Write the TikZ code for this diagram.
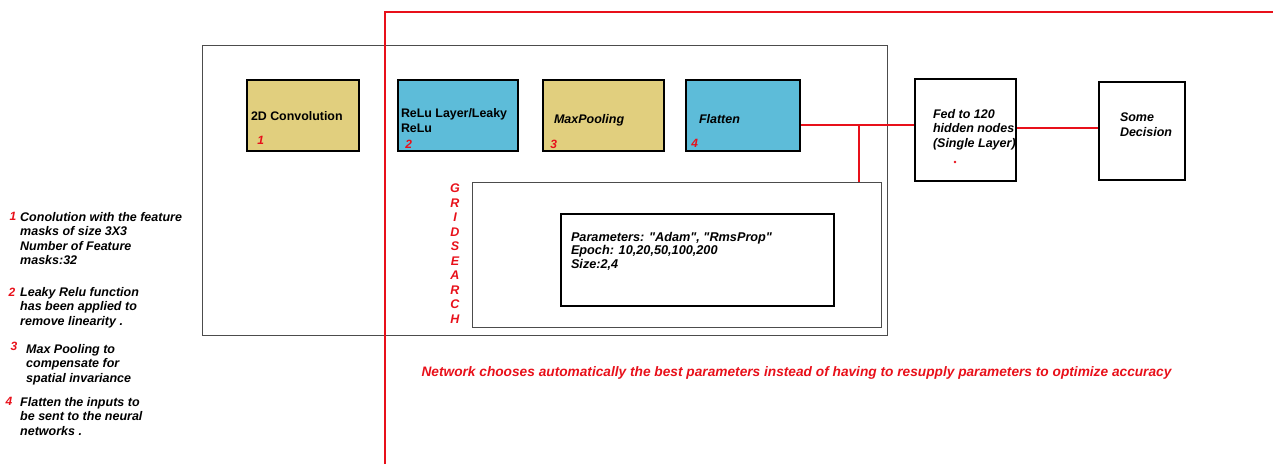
\documentclass[tikz,border=0pt]{standalone}
\usepackage{fontspec}
\setmainfont{Liberation Sans}
\usetikzlibrary{positioning,calc}
\definecolor{layertan}{HTML}{E1CF7E}
\definecolor{layerblue}{HTML}{5DBCD9}
\definecolor{markred}{HTML}{E8101A}

\tikzset{
	layerbox/.style={draw=black,line width=2.4pt,minimum width=112pt,minimum height=71pt,inner sep=0pt},
	plainbox/.style={draw=black,line width=2.4pt,inner sep=0pt},
	framebox/.style={draw=black!70,line width=0.9pt,inner sep=0pt},
	boxtext/.style={font=\fontsize{12.4}{15}\selectfont\bfseries,align=left,inner sep=0pt},
	itext/.style={font=\fontsize{12.5}{14.5}\selectfont\bfseries\itshape,align=left,inner sep=0pt},
	numtext/.style={font=\fontsize{12}{13}\selectfont\bfseries\itshape,text=markred,inner sep=0pt},
	redline/.style={draw=markred,line width=1.8pt}
}

\begin{document}
\begin{tikzpicture}[x=1pt,y=-1pt]
	\useasboundingbox (0,0) rectangle (1273,464);
	
	% outer frame and grid search frame
	\node[framebox,minimum width=685pt,minimum height=290pt] (outer) at (544.5,190) {};
	\node[framebox,minimum width=409pt,minimum height=145pt] (grid) at (676.5,254.5) {};
	
	% layers
	\node[layerbox,fill=layertan] (conv) at (303,115.5) {};
	\node[layerbox,fill=layerblue,minimum width=120pt] (relu) at (458,115.5) {};
	\node[layerbox,fill=layertan,minimum width=121pt] (pool) at (603.5,115.5) {};
	\node[layerbox,fill=layerblue,minimum width=114pt] (flat) at (743,115.5) {};
	
	\node[boxtext,anchor=west] (convtxt) at ([xshift=5pt,yshift=-1pt]conv.west) {2D Convolution};
	\node[boxtext,anchor=west] (relutxt) at ([xshift=4pt,yshift=-5pt]relu.west) {ReLu Layer/Leaky\\ReLu};
	\node[itext,anchor=west] (pooltxt) at ([xshift=12pt,yshift=-5pt]pool.west) {MaxPooling};
	\node[itext,anchor=west] (flattxt) at ([xshift=14pt,yshift=-4pt]flat.west) {Flatten};
	
	\node[numtext] (n1) at ([xshift=15pt,yshift=12pt]conv.south west) {1};
	\node[numtext] (n2) at ([xshift=12pt,yshift=8pt]relu.south west) {2};
	\node[numtext] (n3) at ([xshift=12pt,yshift=8pt]pool.south west) {3};
	\node[numtext] (n4) at ([xshift=10pt,yshift=9pt]flat.south west) {4};
	
	% dense part
	\node[plainbox,minimum width=101pt,minimum height=102pt] (fed) at (965.5,130) {};
	\node[plainbox,minimum width=86pt,minimum height=98pt] (decide) at (1142,131) {};
	\node[itext,anchor=north west] (fedtxt) at ([xshift=19pt,yshift=-31pt]fed.north west) {Fed to 120\\hidden nodes\\(Single Layer)};
	\node[itext,anchor=north west] (decidetxt) at ([xshift=22pt,yshift=-32pt]decide.north west) {Some\\Decision};
	\fill[markred] (955,162) circle (1.4pt);
	
	% grid search
	\node[plainbox,minimum width=273pt,minimum height=92pt] (params) at (697.5,260) {};
	\node[itext,anchor=north west,font=\fontsize{12.7}{13.5}\selectfont\bfseries\itshape] (paramtxt) at ([xshift=11pt,yshift=-19pt]params.north west)
		{Parameters: \textquotedbl Adam\textquotedbl, \textquotedbl RmsProp\textquotedbl\\Epoch: 10,20,50,100,200\\Size:2,4};
	\node[itext,align=center,text=markred] (gridtxt) at (455,253.5) {G\\R\\I\\D\\S\\E\\A\\R\\C\\H};
	
	% connectors
	\coordinate (tap) at (859,125);
	\coordinate (link) at (1050,128);
	\draw[redline] (flat.east |- tap) -- (fed.west |- tap);
	\draw[redline] (tap) -- (tap |- grid.north);
	\draw[redline] (fed.east |- link) -- (decide.west |- link);
	
	% red border line
	\coordinate (rb) at (385,464);
	\coordinate (rc) at (385,12);
	\coordinate (rr) at (1273,12);
	\draw[redline] (rb) -- (rc) -- (rr);
	
	% notes
	\node[numtext] (m1) at (13,216) {1};
	\node[itext,anchor=north west] (note1) at (20,212) {Conolution with the feature\\masks of size 3X3\\Number of Feature\\masks:32};
	\node[numtext] (m2) at (12,292) {2};
	\node[itext,anchor=north west] (note2) at (20,287) {Leaky Relu function\\has been applied to\\remove linearity .};
	\node[numtext] (m3) at (14,346) {3};
	\node[itext,anchor=north west] (note3) at (26,344) {Max Pooling to\\compensate for\\spatial invariance};
	\node[numtext] (m4) at (9,401) {4};
	\node[itext,anchor=north west] (note4) at (20,397) {Flatten the inputs to\\be sent to the neural\\networks .};
	
	\node[itext,text=markred,font=\fontsize{13.7}{15}\selectfont\bfseries\itshape] (summary) at (796.5,373) {Network chooses automatically the best parameters instead of having to resupply parameters to optimize accuracy};
\end{tikzpicture}
\end{document}
